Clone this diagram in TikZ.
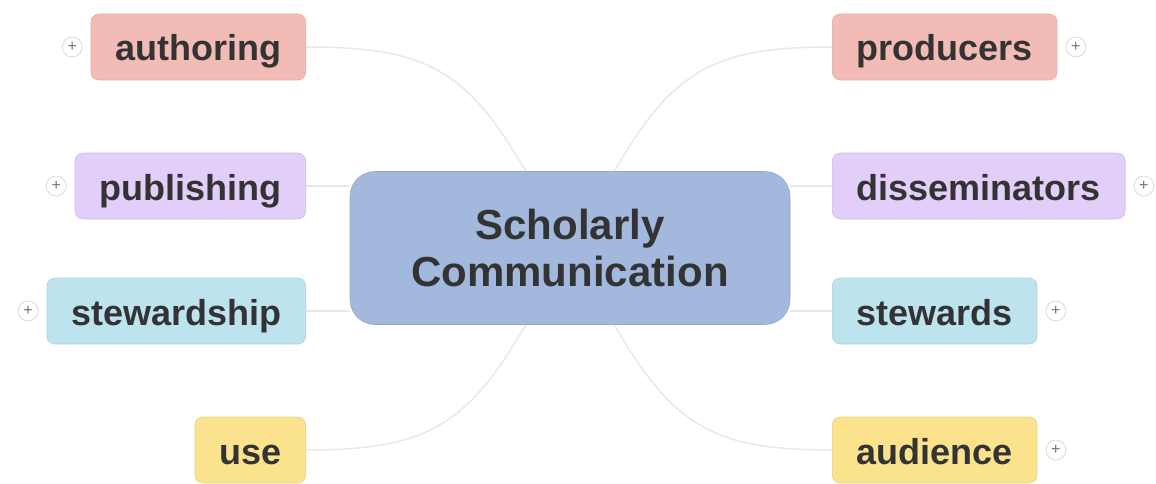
\documentclass[tikz,border=0pt]{standalone}
\usepackage{fontspec}
\setmainfont{Liberation Sans}
\usetikzlibrary{positioning,backgrounds}

\definecolor{hubblue}{HTML}{A3B8DD}
\definecolor{pinkbox}{HTML}{F3BBB5}
\definecolor{lilacbox}{HTML}{E2CEF8}
\definecolor{bluebox}{HTML}{BDE3EF}
\definecolor{yellowbox}{HTML}{FBE38E}
\definecolor{txt}{HTML}{333333}

\begin{document}
\begin{tikzpicture}[
        x=0.5pt, y=0.5pt,
        hub/.style={rounded corners=12.5pt, fill=hubblue, draw=hubblue!92!black, line width=0.3pt,
            minimum width=220pt, minimum height=76.5pt, align=center, text=txt,
            font={\fontsize{21pt}{23.5pt}\selectfont\bfseries}},
        branch/.style={rounded corners=4pt, fill=#1, draw=#1!92!black, line width=0.3pt,
            minimum height=33pt, inner xsep=12.2pt, inner ysep=0pt, text height=14.5pt, text depth=0.5pt,
            text=txt, font={\fontsize{18pt}{20pt}\selectfont\bfseries}},
        plus/.style={circle, fill=white, draw=black!15, line width=0.4pt, inner sep=0pt,
            minimum size=10pt, text=black!55, font={\fontsize{8pt}{8pt}\selectfont}},
        link/.style={draw=black!9, line width=0.75pt}
    ]
    \useasboundingbox (0,0) rectangle (1156,483);

    \node[hub] (hub) at (570,235) {Scholarly\\Communication};

    % left side
    \node[branch=pinkbox, anchor=east] (authoring) at (306,436) {authoring};
    \node[branch=lilacbox, anchor=east] (publishing) at (306,297) {publishing};
    \node[branch=bluebox, anchor=east] (stewardship) at (306,172) {stewardship};
    \node[branch=yellowbox, anchor=east] (use) at (306,33) {use};

    % right side
    \node[branch=pinkbox, anchor=west] (producers) at (832,436) {producers};
    \node[branch=lilacbox, anchor=west] (disseminators) at (832,297) {disseminators};
    \node[branch=bluebox, anchor=west] (stewards) at (832,172) {stewards};
    \node[branch=yellowbox, anchor=west] (audience) at (832,33) {audience};

    % expand buttons
    \node[plus, left=4pt of authoring] (p1) {+};
    \node[plus, left=4pt of publishing] (p2) {+};
    \node[plus, left=4pt of stewardship] (p3) {+};
    \node[plus, right=4pt of producers] (p4) {+};
    \node[plus, right=4pt of disseminators] (p5) {+};
    \node[plus, right=4pt of stewards] (p6) {+};
    \node[plus, right=4pt of audience] (p7) {+};

    \begin{scope}[on background layer]
        \draw[link] (hub) to[out=120, in=0, looseness=1.2] (authoring.east);
        \draw[link] (hub) to[out=60, in=180, looseness=1.2] (producers.west);
        \draw[link] (hub) to[out=-120, in=0, looseness=1.2] (use.east);
        \draw[link] (hub) to[out=-60, in=180, looseness=1.2] (audience.west);
        \draw[link] (hub.west |- publishing.east) -- (publishing.east);
        \draw[link] (hub.west |- stewardship.east) -- (stewardship.east);
        \draw[link] (hub.east |- disseminators.west) -- (disseminators.west);
        \draw[link] (hub.east |- stewards.west) -- (stewards.west);
    \end{scope}
\end{tikzpicture}
\end{document}
